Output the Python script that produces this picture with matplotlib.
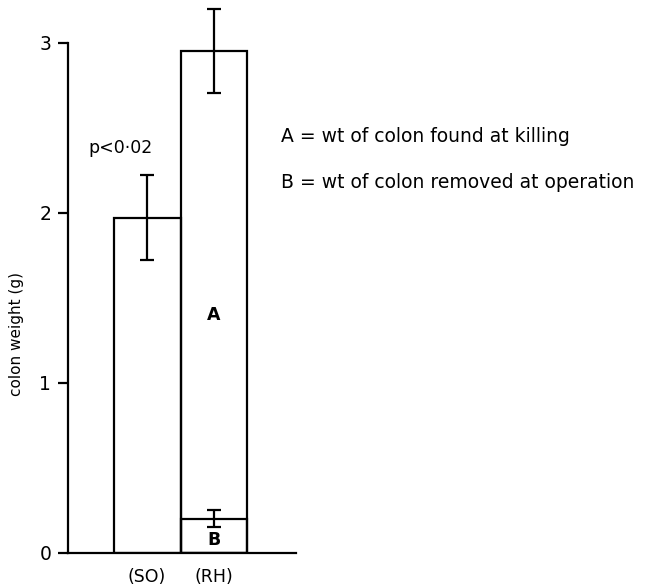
import matplotlib
matplotlib.use("Agg")
import matplotlib.pyplot as plt

groups = ["(SO)", "(RH)"]
totals = [1.97, 2.95]
total_err = [0.25, 0.245]
removed_b = 0.20
removed_b_err = 0.05
p_text = "p<0·02"
legend_lines = ["A = wt of colon found at killing",
                "B = wt of colon removed at operation"]

fig = plt.figure(figsize=(6.66, 5.85), dpi=100)
ax = fig.add_axes([68 / 666, 32 / 585, 598 / 666, 553 / 585])

x = [0, 1]
lw = 1.6
ax.bar(x, totals, width=1.0, fill=False, edgecolor="black", linewidth=lw)
ax.errorbar(x, totals, yerr=total_err, fmt="none", ecolor="black",
            elinewidth=lw, capsize=5, capthick=lw)
# B part inside the RH bar
ax.bar(1, removed_b, width=1.0, fill=False, edgecolor="black", linewidth=lw)
ax.errorbar(1, removed_b, yerr=removed_b_err, fmt="none", ecolor="black",
            elinewidth=lw, capsize=5, capthick=lw)

ax.text(1, 1.40, "A", ha="center", va="center", fontsize=12.5, fontweight="bold")
ax.text(1, 0.075, "B", ha="center", va="center", fontsize=12.5, fontweight="bold")
ax.text(-0.4, 2.38, p_text, ha="center", va="center", fontsize=12.5)
ax.text(2.0, 2.45, legend_lines[0], ha="left", va="center", fontsize=13.5)
ax.text(2.0, 2.18, legend_lines[1], ha="left", va="center", fontsize=13.5)
for xi, g in zip(x, groups):
    ax.text(xi, -0.14, g, ha="center", va="center", fontsize=12.5)

ax.set_xlim(-1.18, 7.75)
ax.set_ylim(0, 3.25)
ax.set_yticks([0, 1, 2, 3])
ax.set_yticklabels(["0", "1", "2", "3"], fontsize=13.5)
ax.set_xticks([])
ax.spines["top"].set_visible(False)
ax.spines["right"].set_visible(False)
ax.spines["left"].set_bounds(0, 3)
ax.spines["bottom"].set_bounds(-1.18, 2.22)
ax.spines["left"].set_linewidth(lw)
ax.spines["bottom"].set_linewidth(lw)
ax.tick_params(axis="y", length=7, width=lw, pad=5)
ax.set_ylabel("colon weight (g)", fontsize=11)
ax.yaxis.set_label_coords(-0.074, 0.396)

fig.savefig("out.png", dpi=100)
